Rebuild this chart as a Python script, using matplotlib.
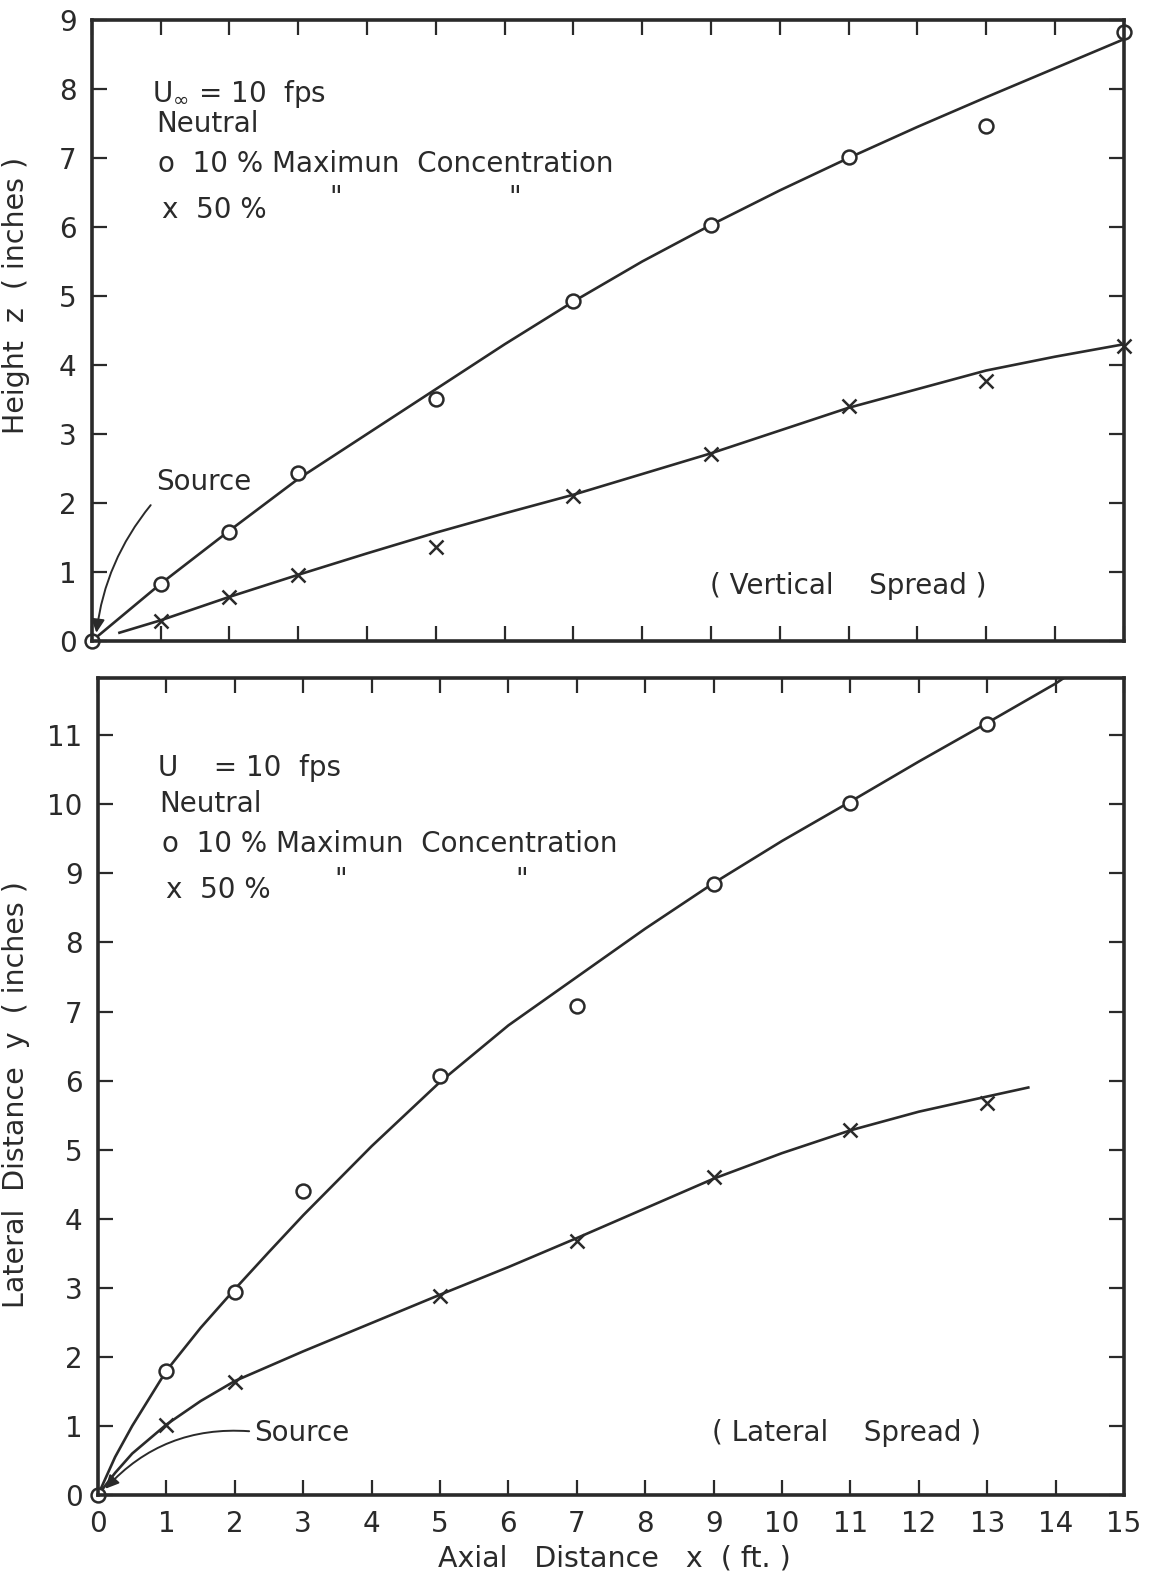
import matplotlib
matplotlib.use("Agg")
import matplotlib.pyplot as plt

plt.rcParams['font.family'] = ['DejaVu Sans']

# vertical spread (top panel)
x_pts = [1, 2, 3, 5, 7, 9, 11, 13, 15]
z10 = [0.83, 1.58, 2.44, 3.51, 4.93, 6.03, 7.01, 7.47, 8.82]
z50 = [0.29, 0.64, 0.96, 1.36, 2.10, 2.71, 3.41, 3.77, 4.28]
zc10_x = [0, 1, 2, 3, 4, 5, 6, 7, 8, 9, 10, 11, 12, 13, 14, 15]
zc10_y = [0, 0.83, 1.60, 2.35, 3.00, 3.65, 4.30, 4.92, 5.50, 6.03, 6.53, 7.00, 7.45, 7.88, 8.30, 8.72]
zc50_x = [0.4, 1, 2, 3, 4, 5, 6, 7, 8, 9, 10, 11, 12, 13, 14, 15]
zc50_y = [0.12, 0.30, 0.64, 0.96, 1.27, 1.57, 1.85, 2.12, 2.42, 2.72, 3.05, 3.38, 3.65, 3.92, 4.12, 4.30]

# lateral spread (bottom panel)
xl10 = [1, 2, 3, 5, 7, 9, 11, 13]
y10 = [1.79, 2.94, 4.40, 6.07, 7.08, 8.84, 10.02, 11.16]
xl50 = [1, 2, 5, 7, 9, 11, 13]
y50 = [1.02, 1.63, 2.88, 3.68, 4.60, 5.28, 5.68]
yc10_x = [0, 0.25, 0.5, 1, 1.5, 2, 2.5, 3, 3.5, 4, 5, 6, 7, 8, 9, 10, 11, 12, 13, 14, 14.12]
yc10_y = [0, 0.55, 1.00, 1.80, 2.42, 2.98, 3.52, 4.05, 4.55, 5.05, 5.98, 6.80, 7.50, 8.20, 8.86, 9.47, 10.04, 10.62, 11.18, 11.75, 11.83]
yc50_x = [0, 0.25, 0.5, 1, 1.5, 2, 3, 4, 5, 6, 7, 8, 9, 10, 11, 12, 13, 13.6]
yc50_y = [0, 0.32, 0.60, 1.02, 1.36, 1.65, 2.08, 2.49, 2.90, 3.30, 3.72, 4.15, 4.58, 4.95, 5.28, 5.55, 5.77, 5.90]

fig = plt.figure(figsize=(11.49, 15.73), dpi=100)
ax1 = fig.add_axes([0.0800, 0.5925, 0.8980, 0.3948])
ax2 = fig.add_axes([0.0853, 0.0496, 0.8930, 0.5194])

fs = 20
lc = '#2a2a2a'
for ax in (ax1, ax2):
    ax.set_xlim(0, 15)
    ax.set_xticks(range(16))
    for s in ax.spines.values():
        s.set_linewidth(2.6)
        s.set_color(lc)
    ax.tick_params(direction='in', length=11, width=1.6, top=True, right=True,
                   labelsize=fs, colors=lc, pad=11)

ax1.set_ylim(0, 9)
ax1.set_yticks(range(10))
ax1.tick_params(labelbottom=False)
ax2.set_ylim(0, 11.83)
ax2.set_yticks(range(12))

# top
ax1.plot(zc10_x, zc10_y, color=lc, lw=1.9)
ax1.plot(zc50_x, zc50_y, color=lc, lw=1.9)
ax1.plot(x_pts, z10, 'o', mfc='white', mec=lc, ms=10, mew=1.8, clip_on=False)
ax1.plot([0], [0], 'o', mfc='white', mec=lc, ms=10, mew=1.8, clip_on=False)
ax1.plot(x_pts, z50, 'x', color=lc, ms=10, mew=1.8, clip_on=False)

# bottom
ax2.plot(yc10_x, yc10_y, color=lc, lw=1.9)
ax2.plot(yc50_x, yc50_y, color=lc, lw=1.9)
ax2.plot(xl10, y10, 'o', mfc='white', mec=lc, ms=10, mew=1.8, clip_on=False)
ax2.plot([0], [0], 'o', mfc='white', mec=lc, ms=10, mew=1.8, clip_on=False)
ax2.plot(xl50, y50, 'x', color=lc, ms=10, mew=1.8, clip_on=False)

# axis labels
ax1.set_ylabel('Height  z  ( inches )', fontsize=20.5, color=lc)
ax1.yaxis.set_label_coords(-0.06, 0.557)
ax2.set_ylabel('Lateral  Distance  y  ( inches )', fontsize=20.5, color=lc)
ax2.yaxis.set_label_coords(-0.066, 0.49)
ax2.set_xlabel('Axial   Distance   x  ( ft. )', fontsize=20.5, color=lc)
ax2.xaxis.set_label_coords(0.503, -0.06)

# top annotations
tk = dict(fontsize=fs, color=lc, va='center')
ax1.text(0.88, 7.93, r'U$_{\infty}$ = 10  fps', **tk)
ax1.text(0.93, 7.49, 'Neutral', **tk)
ax1.text(0.96, 6.91, 'o  10 % Maximun  Concentration', **tk)
ax1.text(1.02, 6.25, 'x  50 %', **tk)
ax1.text(3.45, 6.42, '"', **tk)
ax1.text(6.05, 6.42, '"', **tk)
ax1.text(11.0, 0.8, '( Vertical    Spread )', ha='center', **tk)
ax1.text(0.93, 2.3, 'Source', **tk)
ax1.annotate('', xy=(0.06, 0.08), xytext=(0.88, 2.0),
             arrowprops=dict(arrowstyle='-|>', color=lc, lw=1.4,
                             connectionstyle='arc3,rad=0.15', mutation_scale=20))

# bottom annotations
ax2.text(0.88, 10.52, 'U    = 10  fps', **tk)
ax2.text(0.9, 10.0, 'Neutral', **tk)
ax2.text(0.94, 9.43, 'o  10 % Maximun  Concentration', **tk)
ax2.text(1.0, 8.76, 'x  50 %', **tk)
ax2.text(3.45, 8.9, '"', **tk)
ax2.text(6.1, 8.9, '"', **tk)
ax2.text(10.95, 0.9, '( Lateral    Spread )', ha='center', **tk)
ax2.text(2.28, 0.9, 'Source', **tk)
ax2.annotate('', xy=(0.08, 0.06), xytext=(2.25, 0.92),
             arrowprops=dict(arrowstyle='-|>', color=lc, lw=1.4,
                             connectionstyle='arc3,rad=0.25', mutation_scale=20))

fig.savefig('out.png', dpi=100)
